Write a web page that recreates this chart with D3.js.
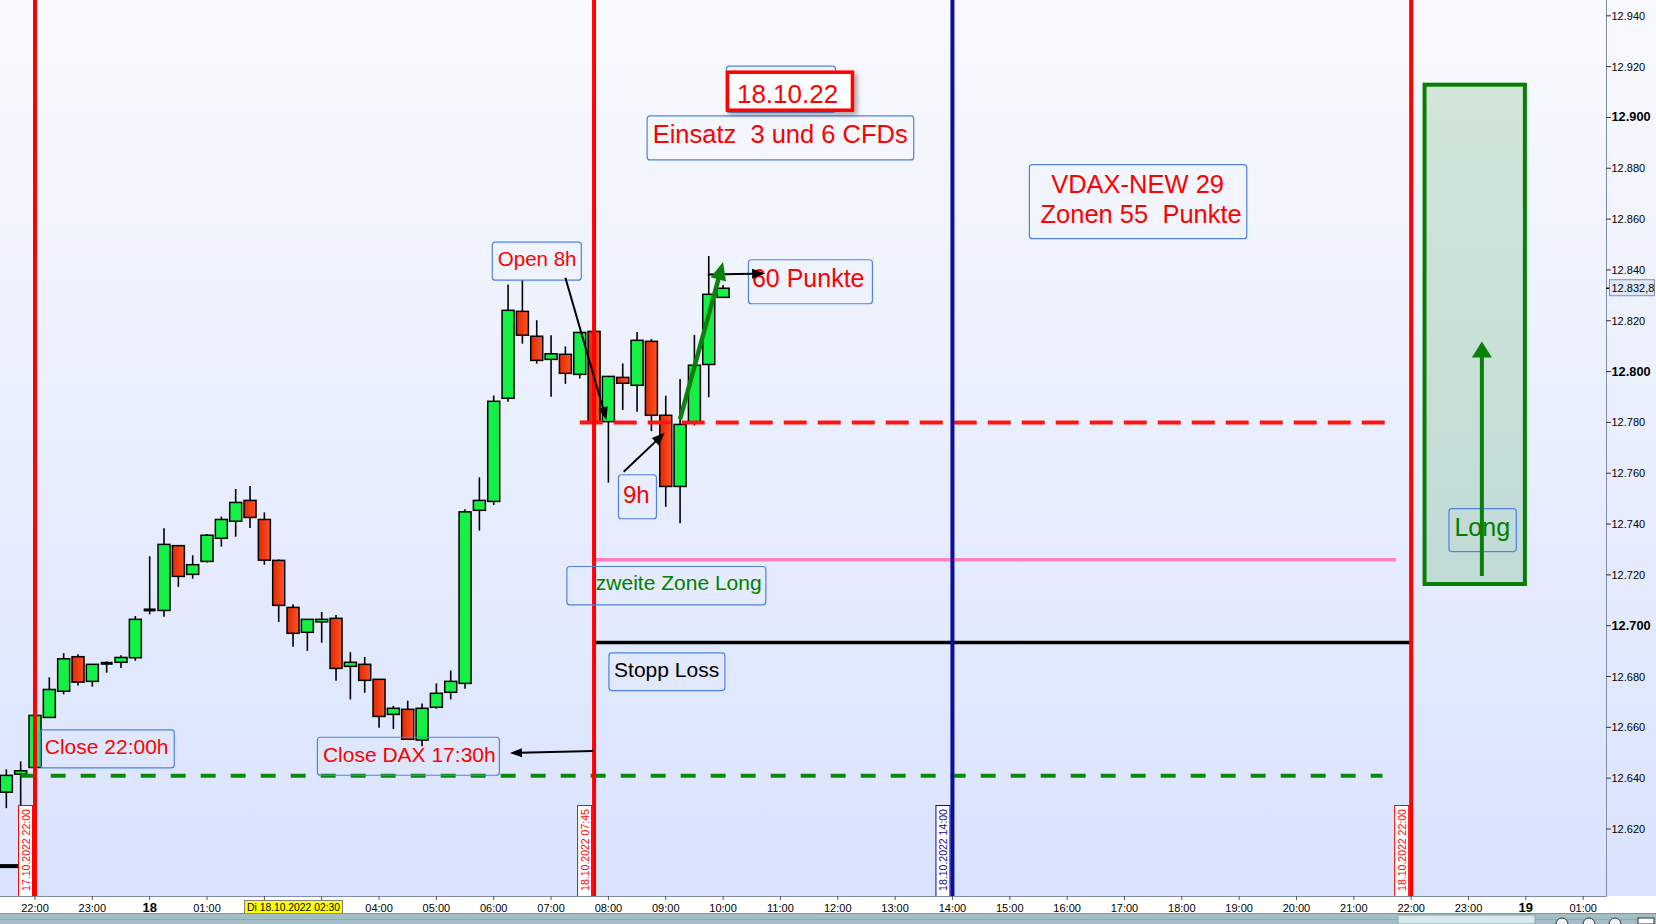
<!DOCTYPE html>
<html><head><meta charset="utf-8">
<script src="https://cdn.jsdelivr.net/npm/d3@7"></script>
<style>html,body{margin:0;padding:0;background:#fff;overflow:hidden}</style>
</head><body>
<svg id="c" width="1656" height="924" xmlns="http://www.w3.org/2000/svg"></svg>
<script>
// ---------- DATA ----------
const candleTimes = [
"2022-10-17 21:30","2022-10-17 21:45","2022-10-17 22:00","2022-10-17 22:15","2022-10-17 22:30","2022-10-17 22:45","2022-10-17 23:00","2022-10-17 23:15","2022-10-17 23:30","2022-10-17 23:45",
"2022-10-18 00:00","2022-10-18 00:15","2022-10-18 00:30","2022-10-18 00:45","2022-10-18 01:00","2022-10-18 01:15","2022-10-18 01:30","2022-10-18 01:45",
"2022-10-18 02:00","2022-10-18 02:15","2022-10-18 02:30","2022-10-18 02:45","2022-10-18 03:00","2022-10-18 03:15","2022-10-18 03:30","2022-10-18 03:45",
"2022-10-18 04:00","2022-10-18 04:15","2022-10-18 04:30","2022-10-18 04:45","2022-10-18 05:00","2022-10-18 05:15","2022-10-18 05:30","2022-10-18 05:45",
"2022-10-18 06:00","2022-10-18 06:15","2022-10-18 06:30","2022-10-18 06:45","2022-10-18 07:00","2022-10-18 07:15","2022-10-18 07:30","2022-10-18 07:45",
"2022-10-18 08:00","2022-10-18 08:15","2022-10-18 08:30","2022-10-18 08:45","2022-10-18 09:00","2022-10-18 09:15","2022-10-18 09:30","2022-10-18 09:45","2022-10-18 10:00"];
const openVals = [12634.5,12641.6,12644.2,12663.9,12674.2,12687.8,12678.1,12685.2,12685.6,12687.4,
 12706.2,12706.0,12731.5,12720.2,12725.3,12734.4,12741.1,12749.3,
 12741.8,12725.7,12707.2,12697.4,12701.5,12702.9,12684.0,12684.8,
 12678.9,12665.1,12667.1,12655.0,12667.9,12673.8,12677.3,12745.4,
 12748.9,12789.5,12823.7,12813.9,12804.8,12806.8,12798.9,12815.8,
 12780.3,12797.7,12794.6,12811.9,12782.8,12754.8,12779.9,12802.8,12829.2];
const highVals = [12643.5,12646.6,12664.7,12679.7,12689.2,12688.8,12684.8,12686.0,12688.4,12703.8,
 12727.3,12738.3,12731.5,12727.7,12736.1,12742.9,12753.8,12755.0,
 12744.6,12726.1,12708.4,12702.5,12705.4,12704.2,12689.6,12687.7,
 12678.9,12668.4,12670.5,12669.4,12677.3,12682.4,12745.8,12758.4,
 12790.6,12834.3,12836.0,12820.2,12814.3,12809.9,12815.4,12815.8,
 12798.1,12803.2,12815.6,12812.8,12790.5,12797.1,12814.4,12845.5,12834.1];
const lowVals = [12628.2,12629.4,12644.2,12663.9,12673.0,12676.5,12676.0,12681.5,12683.4,12686.2,
 12704.5,12703.5,12715.3,12718.5,12724.9,12731.1,12735.0,12738.4,
 12724.0,12701.5,12691.7,12690.1,12693.3,12678.3,12671.0,12673.6,
 12659.8,12659.4,12655.3,12652.6,12667.3,12671.0,12675.2,12737.4,
 12747.5,12788.1,12811.0,12803.1,12790.1,12795.2,12797.3,12780.3,
 12756.3,12784.9,12784.2,12776.6,12746.8,12740.3,12778.8,12789.9,12829.2];
const closeVals = [12641.1,12642.9,12664.7,12674.9,12687.0,12677.8,12684.8,12685.2,12687.5,12702.5,
 12706.2,12732.0,12719.4,12724.0,12735.6,12741.8,12748.5,12742.6,
 12725.8,12708.0,12697.0,12702.5,12702.5,12683.2,12685.6,12678.5,
 12664.3,12667.5,12655.3,12667.5,12673.4,12678.1,12744.8,12749.3,
 12788.3,12824.1,12814.3,12804.4,12807.0,12799.3,12815.4,12780.3,
 12798.1,12795.4,12812.3,12782.8,12754.8,12779.2,12802.5,12830.4,12832.8];
const lastPrice = 12832.8;

const yTickValues = [12620,12640,12660,12680,12700,12720,12740,12760,12780,12800,12820,12840,12860,12880,12900,12920,12940];
const xTickTimes = ["2022-10-17 22:00","2022-10-17 23:00","2022-10-18 00:00","2022-10-18 01:00","2022-10-18 02:00","2022-10-18 03:00","2022-10-18 04:00","2022-10-18 05:00","2022-10-18 06:00","2022-10-18 07:00","2022-10-18 08:00","2022-10-18 09:00","2022-10-18 10:00","2022-10-18 11:00","2022-10-18 12:00","2022-10-18 13:00","2022-10-18 14:00","2022-10-18 15:00","2022-10-18 16:00","2022-10-18 17:00","2022-10-18 18:00","2022-10-18 19:00","2022-10-18 20:00","2022-10-18 21:00","2022-10-18 22:00","2022-10-18 23:00","2022-10-19 00:00","2022-10-19 01:00"];
const cursorLabel = "Di 18.10.2022 02:30";
const cursorTime = "2022-10-18 02:30";

// horizontal levels
const levelNames  = ["Einstieg 8h","Close 22:00","Zweite Zone Long","Stopp Loss","Stopp Vortag"];
const levelPrices = [12780, 12641, 12726, 12693.4, 12605.4];
const levelStart  = ["2022-10-18 07:30","2022-10-17 21:45","2022-10-18 07:45","2022-10-18 07:45","2022-10-17 21:20"];
const levelEnd    = ["2022-10-18 21:34","2022-10-18 21:30","2022-10-18 21:44","2022-10-18 22:00","2022-10-17 21:45"];

// vertical time markers
const markerTimes  = ["2022-10-17 22:00","2022-10-18 07:45","2022-10-18 14:00","2022-10-18 22:00"];
const markerLabels = ["17.10.2022 22:00","18.10.2022 07:45","18.10.2022 14:00","18.10.2022 22:00"];

// long target zone
const zoneTimes  = ["2022-10-18 22:14","2022-10-18 23:59"];
const zonePrices = [12912.9, 12716.4];

// annotations (text, anchor time, anchor price = top-left)
const noteTexts  = [["Close 22:00h"],["Close DAX 17:30h"],["Open 8h"],["9h"],["60 Punkte"],["Einsatz  3 und 6 CFDs"],["VDAX-NEW 29"," Zonen 55  Punkte"],["   zweite Zone Long"],["Stopp Loss"],["Long"]];
const noteTimes  = ["2022-10-17 22:05","2022-10-18 02:55","2022-10-18 05:58","2022-10-18 08:10","2022-10-18 10:26","2022-10-18 08:40","2022-10-18 15:20","2022-10-18 07:16","2022-10-18 08:00","2022-10-18 22:39"];
const notePrices = [12659.2,12656.3,12851.1,12759.6,12844.2,12900.8,12881.6,12723.5,12689.5,12746.3];
const dateNote = {text:"18.10.22", old:"17.10.22", time:"2022-10-18 10:03", price:12918.4};

// arrows: start time/price -> end time/price
const arrowFromT = ["2022-10-18 07:15","2022-10-18 08:16","2022-10-18 09:44","2022-10-18 07:44","2022-10-18 09:15","2022-10-18 23:14"];
const arrowFromP = [12836.9,12760.6,12838.2,12650.7,12781.3,12719.6];
const arrowToT   = ["2022-10-18 07:58","2022-10-18 08:59","2022-10-18 10:44","2022-10-18 06:17","2022-10-18 10:00","2022-10-18 23:14"];
const arrowToP   = [12780.9,12775.9,12838.6,12649.9,12843.1,12811.8];

// ---------- STYLE / LAYOUT ----------
const W = 1656, H = 924, plotR = 1606, plotB = 896;
const RED = "#ff0000", GREEN = "#008000", BLUE = "#0c0ca0", BOXB = "#4f82e2";
const FONT = "'Liberation Sans', Arial, sans-serif";
const levelStyle = [
  {color:"#ff1414", w:4, dash:"23 11"},
  {color:"#0a8a0a", w:4, dash:"15 15"},
  {color:"#ff80c0", w:3.5, dash:null},
  {color:"#000000", w:3.5, dash:null},
  {color:"#000000", w:4, dash:null}];
const markerColor = [RED, RED, BLUE, RED];
const noteStyle = [
  {w:134,h:38,tx:5,ty:25,fs:21,c:RED},
  {w:182,h:38,tx:6,ty:25,fs:21,c:RED},
  {w:89,h:38,tx:6,ty:24.5,fs:20.5,c:RED},
  {w:38,h:44,tx:5,ty:29,fs:24,c:RED},
  {w:124,h:44,tx:4,ty:28,fs:25,c:RED},
  {w:266.6,h:44,tx:6,ty:28,fs:25.5,c:RED},
  {w:217.4,h:74,tx:"mid",ty:29,fs:25.5,c:RED,lh:30},
  {w:199,h:38.3,tx:12,ty:24,fs:21,c:GREEN},
  {w:116,h:37.7,tx:5.7,ty:24.4,fs:21,c:"#000"},
  {w:67.4,h:43,tx:6,ty:28.3,fs:25,c:GREEN}];
const arrowStyle = [
  {c:"#000",w:2,hl:13,hw:10},{c:"#000",w:2,hl:13,hw:10},{c:"#000",w:2,hl:13,hw:10},
  {c:"#000",w:2,hl:12,hw:9},{c:"#0a820a",w:4.5,hl:18,hw:16},{c:"#088008",w:4,hl:16,hw:20}];

// ---------- SCALES ----------
const parse = d3.timeParse("%Y-%m-%d %H:%M");
const x = d3.scaleTime()
  .domain([parse("2022-10-17 22:00"), parse("2022-10-19 01:00")])
  .range([35, 35 + 27 * 57.34]);
const y = d3.scaleLinear().domain([12620, 12940]).range([829, 15.8]);
const de = d3.formatLocale({decimal:",", thousands:".", grouping:[3], currency:["","€"]});
const fmt0 = de.format(",.0f"), fmt1 = de.format(",.1f");

const svg = d3.select("#c");
const defs = svg.append("defs");
const bg = defs.append("linearGradient").attr("id","bgG").attr("x1",0).attr("y1",0).attr("x2",0).attr("y2",1);
bg.append("stop").attr("offset",0).attr("stop-color","#f9fafe");
bg.append("stop").attr("offset",1).attr("stop-color","#d9e3fd");
const rg = defs.append("linearGradient").attr("id","redG").attr("x1",0).attr("y1",0).attr("x2",1).attr("y2",0);
rg.append("stop").attr("offset",0).attr("stop-color","#e02808");
rg.append("stop").attr("offset",1).attr("stop-color","#ff5420");
const sh = defs.append("filter").attr("id","shadow").attr("x","-20%").attr("y","-20%").attr("width","150%").attr("height","160%");
sh.append("feDropShadow").attr("dx",3).attr("dy",3).attr("stdDeviation",2.5).attr("flood-color","#000").attr("flood-opacity",0.35);
defs.append("clipPath").attr("id","plotClip").append("rect").attr("x",0).attr("y",0).attr("width",plotR).attr("height",plotB);

// background
svg.append("rect").attr("x",0).attr("y",0).attr("width",W).attr("height",plotB).attr("fill","url(#bgG)");
svg.append("rect").attr("x",0).attr("y",plotB).attr("width",W).attr("height",17).attr("fill","#ffffff");

const plot = svg.append("g").attr("clip-path","url(#plotClip)");

// target zone
plot.append("rect")
  .attr("x", x(parse(zoneTimes[0]))).attr("y", y(zonePrices[0]))
  .attr("width", x(parse(zoneTimes[1])) - x(parse(zoneTimes[0])))
  .attr("height", y(zonePrices[1]) - y(zonePrices[0]))
  .attr("fill","rgba(0,128,0,0.15)").attr("stroke","#058005").attr("stroke-width",4);

// candles
const gC = plot.append("g");
const bodyW = 12;
candleTimes.forEach((t,i)=>{
  const cx = x(parse(t));
  const o = openVals[i], c = closeVals[i];
  gC.append("line").attr("x1",cx).attr("x2",cx).attr("y1",y(highVals[i])).attr("y2",y(lowVals[i]))
    .attr("stroke","#000").attr("stroke-width",1.6);
  const top = y(Math.max(o,c)), bot = y(Math.min(o,c));
  if (Math.abs(c-o) < 0.05) {
    gC.append("rect").attr("x",cx-bodyW/2).attr("y",top-1.5).attr("width",bodyW).attr("height",3).attr("fill","#000");
  } else {
    gC.append("rect").attr("x",cx-bodyW/2).attr("y",top).attr("width",bodyW).attr("height",Math.max(1,bot-top))
      .attr("fill", c>o ? "#14f046" : "url(#redG)").attr("stroke","#000").attr("stroke-width",1.5);
  }
});

// horizontal levels
levelPrices.forEach((p,i)=>{
  const s = levelStyle[i];
  const l = plot.append("line").attr("x1",x(parse(levelStart[i]))).attr("x2",x(parse(levelEnd[i])))
    .attr("y1",y(p)).attr("y2",y(p)).attr("stroke",s.color).attr("stroke-width",s.w);
  if (s.dash) l.attr("stroke-dasharray",s.dash);
});

// vertical markers
markerTimes.forEach((t,i)=>{
  const xv = x(parse(t));
  plot.append("line").attr("x1",xv).attr("x2",xv).attr("y1",0).attr("y2",plotB)
    .attr("stroke",markerColor[i]).attr("stroke-width",4);
  plot.append("rect").attr("x",xv-16.5).attr("y",805.5).attr("width",14).attr("height",92)
    .attr("fill","#ffffff").attr("stroke",markerColor[i]).attr("stroke-width",1);
  plot.append("text").attr("transform",`translate(${xv-9.2},850) rotate(-90)`)
    .attr("text-anchor","middle").attr("dominant-baseline","central")
    .attr("font-family",FONT).attr("font-size",10.5).attr("fill",markerColor[i]).text(markerLabels[i]);
});

// annotations
const gN = svg.append("g");
noteTexts.forEach((lines,i)=>{
  const s = noteStyle[i];
  const bx = x(parse(noteTimes[i])), by = y(notePrices[i]);
  gN.append("rect").attr("x",bx+0.5).attr("y",by+0.5).attr("width",s.w).attr("height",s.h).attr("rx",3)
    .attr("fill","none").attr("stroke",BOXB).attr("stroke-width",1.2);
  lines.forEach((ln,k)=>{
    const t = gN.append("text").attr("y",by+s.ty+k*(s.lh||0))
      .attr("font-family",FONT).attr("font-size",s.fs).attr("fill",s.c)
      .attr("xml:space","preserve").style("white-space","pre").text(ln);
    if (s.tx==="mid") t.attr("x",bx+s.w/2).attr("text-anchor","middle");
    else t.attr("x",bx+s.tx);
  });
});
// date note (old box behind + new red box)
{
  const bx = x(parse(dateNote.time)), by = y(dateNote.price);
  gN.append("rect").attr("x",bx+0.5).attr("y",by-4.5).attr("width",109).attr("height",46).attr("rx",3)
    .attr("fill","none").attr("stroke",BOXB).attr("stroke-width",1.2);
  gN.append("text").attr("x",bx+9).attr("y",by+32).attr("font-family",FONT).attr("font-size",26)
    .attr("fill","#ffd6d6").text(dateNote.old);
  gN.append("rect").attr("x",bx+1.5).attr("y",by+1.5).attr("width",125).attr("height",38)
    .attr("fill","#ffffff").attr("stroke","#ff0000").attr("stroke-width",3.5).attr("filter","url(#shadow)");
  gN.append("text").attr("x",bx+11).attr("y",by+32.6).attr("font-family",FONT).attr("font-size",26)
    .attr("fill",RED).text(dateNote.text);
}

// arrows
const gA = svg.append("g");
arrowFromT.forEach((t,i)=>{
  const s = arrowStyle[i];
  const x1 = x(parse(t)), y1 = y(arrowFromP[i]), x2 = x(parse(arrowToT[i])), y2 = y(arrowToP[i]);
  const a = Math.atan2(y2-y1, x2-x1);
  const bx = x2 - s.hl*Math.cos(a), by = y2 - s.hl*Math.sin(a);
  gA.append("line").attr("x1",x1).attr("y1",y1).attr("x2",bx+2*Math.cos(a)).attr("y2",by+2*Math.sin(a))
    .attr("stroke",s.c).attr("stroke-width",s.w);
  const px = -Math.sin(a)*s.hw/2, py = Math.cos(a)*s.hw/2;
  gA.append("polygon").attr("points",`${x2},${y2} ${bx+px},${by+py} ${bx-px},${by-py}`).attr("fill",s.c);
});

// axes frame
svg.append("line").attr("x1",plotR+0.5).attr("x2",plotR+0.5).attr("y1",0).attr("y2",plotB+0.5).attr("stroke","#7f8ea6").attr("stroke-width",1);
svg.append("line").attr("x1",0).attr("x2",plotR+0.5).attr("y1",plotB+0.5).attr("y2",plotB+0.5).attr("stroke","#7f8ea6").attr("stroke-width",1);

// y axis
const gY = svg.append("g");
yTickValues.forEach(v=>{
  const yy = y(v);
  gY.append("line").attr("x1",plotR).attr("x2",plotR+5).attr("y1",yy).attr("y2",yy).attr("stroke","#333").attr("stroke-width",1);
  const bold = v % 100 === 0;
  gY.append("text").attr("x",plotR+5.5).attr("y",yy+4).attr("font-family",FONT)
    .attr("font-size",bold?12.8:11).attr("font-weight",bold?"bold":"normal").attr("fill","#000").text(fmt0(v));
});
{
  const yy = y(lastPrice);
  gY.append("line").attr("x1",plotR).attr("x2",plotR+4).attr("y1",yy).attr("y2",yy).attr("stroke","#000").attr("stroke-width",1.5);
  gY.append("rect").attr("x",plotR+3.5).attr("y",yy-8.5).attr("width",45).attr("height",16)
    .attr("fill","#dde7f8").attr("stroke","#8391a8").attr("stroke-width",1);
  gY.append("text").attr("x",plotR+5.5).attr("y",yy+4).attr("font-family",FONT).attr("font-size",11)
    .attr("fill","#000").text(fmt1(lastPrice));
}

// x axis
const gX = svg.append("g");
const cursorX = x(parse(cursorTime));
xTickTimes.forEach(t=>{
  const d = parse(t), xx = x(d);
  gX.append("line").attr("x1",xx).attr("x2",xx).attr("y1",plotB).attr("y2",plotB+4).attr("stroke","#555").attr("stroke-width",1);
  if (Math.abs(xx - cursorX) < 70) return; // hidden behind the cursor time box
  const midnight = d.getHours()===0;
  gX.append("text").attr("x",xx).attr("y",911.5).attr("text-anchor","middle").attr("font-family",FONT)
    .attr("font-size",midnight?13:11).attr("font-weight",midnight?"bold":"normal").attr("fill","#000")
    .text(midnight ? d3.timeFormat("%-d")(d) : d3.timeFormat("%H:%M")(d));
});
{
  gX.append("rect").attr("x",cursorX-48.5).attr("y",900.5).attr("width",98).attr("height",13)
    .attr("fill","#ffff00").attr("stroke","#808080").attr("stroke-width",1);
  gX.append("text").attr("x",cursorX+0.5).attr("y",911).attr("text-anchor","middle").attr("font-family",FONT)
    .attr("font-size",11).attr("textLength",93).attr("lengthAdjust","spacingAndGlyphs").attr("fill","#000").text(cursorLabel);
}

// bottom status bar
svg.append("rect").attr("x",0).attr("y",913).attr("width",W).attr("height",11).attr("fill","#a4bec5");
svg.append("line").attr("x1",0).attr("x2",W).attr("y1",913.5).attr("y2",913.5).attr("stroke","#7896a0");
svg.append("line").attr("x1",0).attr("x2",W).attr("y1",919.5).attr("y2",919.5).attr("stroke","#8eaab2");
svg.append("rect").attr("x",1398).attr("y",915).attr("width",137).attr("height",9).attr("fill","#d6eaee").attr("stroke","#8aa4ac");
[1562,1589,1615].forEach(cx=>svg.append("circle").attr("cx",cx).attr("cy",924).attr("r",6).attr("fill","#eef4f6").attr("stroke","#333"));
svg.append("rect").attr("x",1638).attr("y",918).attr("width",16).attr("height",6).attr("fill","#fff").attr("stroke","#333");
</script>
</body></html>
